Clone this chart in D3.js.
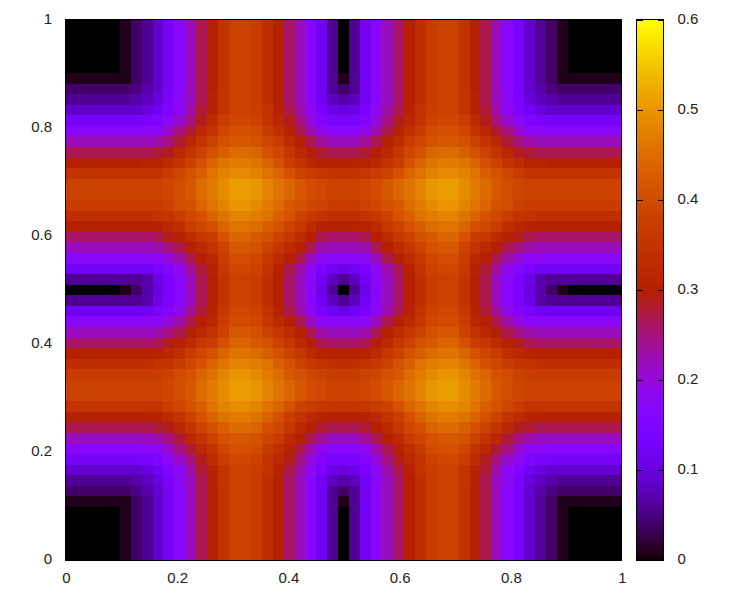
<!DOCTYPE html>
<html>
<head>
<meta charset="utf-8">
<script src="https://cdn.jsdelivr.net/npm/d3@7"></script>
<style>
html,body{margin:0;padding:0;background:#fff}
svg{display:block}
text{font-family:"Liberation Sans",Arial,sans-serif;font-size:15px;fill:#222}
</style>
</head>
<body>
<svg id="c" width="750" height="600"></svg>
<script>
// Top-left quadrant (x 0..0.5, y 1..0.5), in hundredths.
// The picture is mirror symmetric about x = 0.5 and y = 0.5.
const quadrant = [
[0,0,0,0,0,1,4,6,9,13,17,22,27,30,35,38,38,37,34,30,26,22,17,12,6,0],
[0,0,0,0,0,1,4,6,9,13,17,22,27,30,35,38,38,37,34,30,26,22,17,12,6,0],
[0,0,0,0,0,1,4,6,9,13,17,22,27,30,35,38,38,37,34,30,26,22,17,12,6,0],
[0,0,0,0,0,1,4,6,9,13,17,22,27,30,35,38,38,37,34,30,26,22,17,12,6,0],
[0,0,0,0,0,1,4,6,9,13,17,22,27,30,35,38,38,37,34,30,26,22,17,12,6,0],
[1,1,1,1,1,1,4,6,9,13,17,22,27,30,35,38,38,37,34,30,26,22,17,12,6,1],
[4,4,4,4,4,4,5,7,9,13,17,22,27,30,35,38,38,37,34,30,26,22,17,12,6,4],
[6,6,6,6,6,6,7,8,10,14,18,22,27,31,35,38,38,37,34,30,26,22,17,12,8,7],
[9,9,9,9,9,9,9,10,12,15,18,23,28,31,35,38,38,37,35,31,27,23,18,14,11,10],
[13,13,13,13,13,13,13,14,15,18,21,25,29,33,37,39,39,38,35,32,29,25,20,16,14,14],
[17,17,17,17,17,17,17,18,18,21,25,28,32,35,39,41,41,40,37,34,31,27,23,19,17,17],
[22,22,22,22,22,22,22,22,23,25,28,32,35,38,41,42,42,41,39,37,33,30,27,24,22,22],
[27,27,27,27,27,27,27,27,28,29,32,35,38,41,43,45,45,44,41,39,36,32,30,28,27,27],
[30,30,30,30,30,30,30,31,31,33,35,38,41,44,46,47,47,46,44,41,37,35,32,31,30,30],
[35,35,35,35,35,35,35,35,35,37,39,41,43,46,48,49,49,48,46,44,41,38,37,36,35,35],
[38,38,38,38,38,38,38,38,38,39,40,42,45,47,49,51,51,50,48,46,44,42,40,39,38,38],
[38,38,38,38,38,38,38,38,38,39,40,42,45,47,49,51,51,50,48,46,44,42,40,39,38,38],
[37,37,37,37,37,37,37,37,37,38,40,41,44,46,48,50,50,49,47,45,42,41,39,38,37,37],
[34,34,34,34,34,34,34,34,35,35,37,39,41,44,46,48,48,47,46,43,41,38,36,35,34,34],
[30,30,30,30,30,30,30,30,31,32,34,37,39,41,44,46,46,45,43,41,38,36,33,31,30,30],
[26,26,26,26,26,26,26,26,27,29,31,33,36,37,41,44,44,42,41,38,36,33,30,27,26,26],
[22,22,22,22,22,22,22,22,23,25,27,30,32,35,38,42,42,41,38,36,33,30,27,23,22,22],
[17,17,17,17,17,17,17,18,18,20,23,27,30,32,37,40,40,39,36,33,30,27,22,18,17,17],
[12,12,12,12,12,12,12,12,14,16,19,24,28,31,36,39,39,38,35,31,27,23,18,14,12,11],
[6,6,6,6,6,6,6,7,11,14,17,22,27,30,35,38,38,37,34,30,26,22,17,12,8,6],
[0,0,0,0,0,1,4,7,10,14,17,22,27,30,35,38,38,37,34,30,26,22,17,11,6,0]
];
const axisTicks = [0, 0.2, 0.4, 0.6, 0.8, 1];
const colorTicks = [0, 0.1, 0.2, 0.3, 0.4, 0.5, 0.6];
const colorMax = 0.6;
const paletteLevels = 128;
const sampleStepX = 0.01966;
const sampleStepY = 1 / 51;

const mirror = k => k <= 25 ? k : 50 - k;
const indices = d3.range(51);

const svg = d3.select('#c');
const x = d3.scaleLinear().domain([0, 1]).range([65.8, 621.8]).clamp(true);
const y = d3.scaleLinear().domain([0, 1]).range([560, 20]).clamp(true);
const yc = d3.scaleLinear().domain([0, colorMax]).range([560, 20]).clamp(true);

function palette(v) {
  const t = Math.max(0, Math.min(1, v / colorMax));
  const r = Math.sqrt(t), g = t * t * t, b = Math.max(0, Math.sin(2 * Math.PI * t));
  return d3.rgb(r * 255, g * 255, b * 255).formatHex();
}

const cells = [];
indices.forEach(j => indices.forEach(i => {
  cells.push({
    xc: 0.5 + (i - 25) * sampleStepX,
    yc: 0.5 - (j - 25) * sampleStepY,
    v: quadrant[mirror(j)][mirror(i)] / 100
  });
}));

svg.append('g').attr('shape-rendering', 'crispEdges').selectAll('rect').data(cells).join('rect')
  .attr('x', d => x(d.xc - sampleStepX / 2))
  .attr('y', d => y(d.yc + sampleStepY / 2))
  .attr('width', d => x(d.xc + sampleStepX / 2) - x(d.xc - sampleStepX / 2))
  .attr('height', d => y(d.yc - sampleStepY / 2) - y(d.yc + sampleStepY / 2))
  .attr('fill', d => palette(d.v));

svg.append('rect').attr('x', 65.5).attr('y', 19.5).attr('width', 556).attr('height', 541)
  .attr('fill', 'none').attr('stroke', '#000').attr('shape-rendering', 'crispEdges');

const xAxis = d3.axisBottom(d3.scaleLinear().domain([0, 1]).range([66, 622])).tickValues(axisTicks)
  .tickSize(0).tickPadding(11).tickFormat(d3.format('~g'));
const yAxis = d3.axisLeft(y).tickValues(axisTicks).tickSize(0).tickPadding(14).tickFormat(d3.format('~g'));
const gx = svg.append('g').attr('transform', 'translate(0,561)').call(xAxis);
const gy = svg.append('g').attr('transform', 'translate(66,-1)').call(yAxis);
[gx, gy].forEach(g => { g.select('.domain').remove(); g.selectAll('text').attr('fill', null); });

// Colour box
const barX = 636.5, barW = 27;
const levels = d3.range(paletteLevels);
svg.append('g').attr('shape-rendering', 'crispEdges').selectAll('rect').data(levels).join('rect')
  .attr('x', barX).attr('width', barW)
  .attr('y', l => yc((l + 1) / paletteLevels * colorMax))
  .attr('height', l => yc(l / paletteLevels * colorMax) - yc((l + 1) / paletteLevels * colorMax) + 1)
  .attr('fill', l => palette((l + 0.5) / paletteLevels * colorMax));
svg.append('rect').attr('x', barX).attr('y', 19.5).attr('width', barW).attr('height', 541)
  .attr('fill', 'none').attr('stroke', '#000').attr('shape-rendering', 'crispEdges');
const barTicks = svg.append('g').attr('stroke', '#000').attr('shape-rendering', 'crispEdges');
colorTicks.forEach(t => {
  const yy = Math.round(yc(t)) + 0.5;
  barTicks.append('line').attr('x1', barX).attr('x2', barX + 6).attr('y1', yy).attr('y2', yy);
  barTicks.append('line').attr('x1', barX + barW - 6).attr('x2', barX + barW).attr('y1', yy).attr('y2', yy);
});
const cAxis = d3.axisRight(yc).tickValues(colorTicks).tickSize(0).tickPadding(14).tickFormat(d3.format('~g'));
const gc = svg.append('g').attr('transform', 'translate(663.5,-1)').call(cAxis);
gc.select('.domain').remove();
gc.selectAll('text').attr('fill', null);
</script>
</body>
</html>
